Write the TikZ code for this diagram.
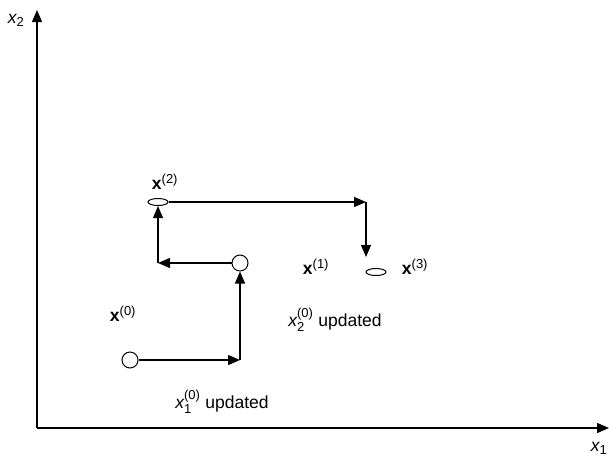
\documentclass[tikz,border=0pt]{standalone}
\usepackage{amsmath}
\usepackage{fontspec}
\setmainfont{Liberation Sans}
\DeclareMathSizes{17.5}{17.5}{13}{10}
\usepackage{tikz}
\usetikzlibrary{arrows.meta,shapes.geometric}

\begin{document}
\begin{tikzpicture}[>={Triangle[length=12pt,width=10pt]},x=1pt,y=-1pt,line width=1.1pt,
  every node/.style={font=\fontsize{17.5}{21}\selectfont},
  iterate/.style={circle,draw,inner sep=0pt,minimum size=16pt,line width=1pt},
  flatiterate/.style={ellipse,draw,inner sep=0pt,minimum width=20pt,minimum height=7pt,line width=1pt}]
  \useasboundingbox (0,0) rectangle (609,458);
  \coordinate (o) at (37,428);
  \coordinate (xend) at (609,428);
  \coordinate (yend) at (37,10);
  \draw[->,line width=1.3pt] (o) -- (xend);
  \draw[->,line width=1.3pt] (o) -- (yend);
  \node (xlab) at (16,20) {$\textit{x}_{\text{2}}$};
  \node (ylab) at (599,448) {$\textit{x}_{\text{1}}$};

  \node[iterate] (p0) at (130,360) {};
  \node[iterate] (p1) at (240,263) {};
  \node[flatiterate] (p2) at (158,202) {};
  \node[flatiterate] (p3) at (376,272) {};
  \coordinate (c0) at (240,360);
  \coordinate (c1) at (158,263);
  \coordinate (c2) at (366,202);
  \coordinate (e3) at (366,257);

  \draw[->] (p0) -- (c0);
  \draw[->] (c0) -- (p1);
  \draw[->] (p1) -- (c1);
  \draw[->] (c1) -- (p2);
  \draw[->] (p2) -- (c2);
  \draw[->] (c2) -- (e3);

  \node (l0) at (123,314) {$\textbf{x}^{\text{(0)}}$};
  \node (l1) at (316,267) {$\textbf{x}^{\text{(1)}}$};
  \node (l2) at (165,182) {$\textbf{x}^{\text{(2)}}$};
  \node (l3) at (415,267) {$\textbf{x}^{\text{(3)}}$};
  \node (u1) at (222,402) {$\textit{x}_{\text{1}}^{\text{(0)}}$ updated};
  \node (u2) at (335,320) {$\textit{x}_{\text{2}}^{\text{(0)}}$ updated};
\end{tikzpicture}
\end{document}
